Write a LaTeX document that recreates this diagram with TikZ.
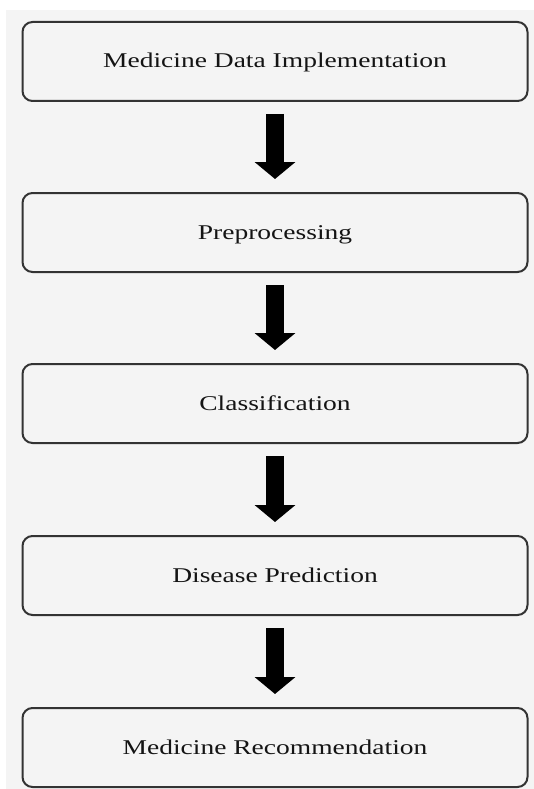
\documentclass[tikz,border=0pt]{standalone}
\usepackage{graphicx}
\usepackage{fontspec}
\setmainfont{Liberation Serif}
\usetikzlibrary{arrows.meta}
\definecolor{bggray}{HTML}{F4F4F4}
\definecolor{edgegray}{HTML}{333333}
\definecolor{txtgray}{HTML}{141414}
\tikzset{
  stagebox/.style={draw=edgegray, line width=2pt, rounded corners=10pt, fill=bggray,
    minimum width=505pt, minimum height=79pt, inner sep=0pt,
    text=txtgray, font=\fontsize{21}{24}\selectfont, text height=14pt, text depth=1pt},
  bigarrow/.style={draw=black, line width=18pt, -{Triangle[width=40pt,length=17pt]}}
}
\newcommand{\wide}[1]{\scalebox{1.31}[1]{#1}}
\begin{document}
\begin{tikzpicture}[x=1pt,y=-1pt]
\useasboundingbox (0,0) rectangle (534,789);
\fill[white] (0,0) rectangle (534,789);
\fill[bggray] (6,10) rectangle (534,789);
\node[stagebox] (b1) at (275,61.5) {\wide{Medicine Data Implementation}};
\node[stagebox] (b2) at (275,232.5) {\wide{Preprocessing}};
\node[stagebox] (b3) at (275,403.5) {\wide{Classification}};
\node[stagebox] (b4) at (275,575.5) {\wide{Disease Prediction}};
\node[stagebox] (b5) at (275,747.5) {\wide{Medicine Recommendation}};
\draw[bigarrow] ([yshift=-12pt]b1.south) -- ([yshift=13pt]b2.north);
\draw[bigarrow] ([yshift=-12pt]b2.south) -- ([yshift=13pt]b3.north);
\draw[bigarrow] ([yshift=-12pt]b3.south) -- ([yshift=13pt]b4.north);
\draw[bigarrow] ([yshift=-12pt]b4.south) -- ([yshift=13pt]b5.north);
\end{tikzpicture}
\end{document}
